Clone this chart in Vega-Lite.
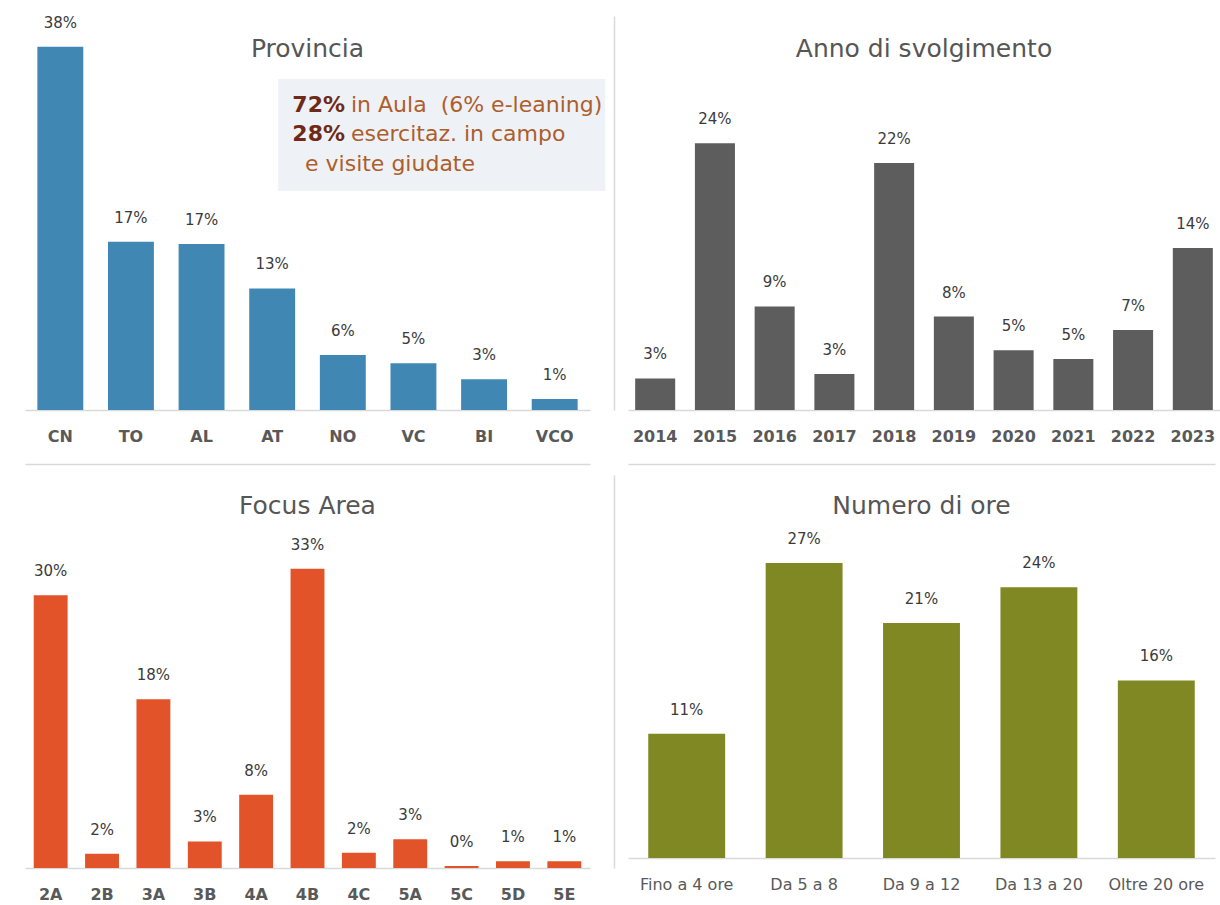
{
  "$schema": "https://vega.github.io/schema/vega-lite/v6.json",
  "background": "white",
  "padding": {"left": 25, "top": 15, "right": 0, "bottom": 0},
  "config": {
    "view": {"stroke": null},
    "font": "DejaVu Sans",
    "title": {"fontSize": 25, "fontWeight": "normal", "color": "#565656", "anchor": "middle", "baseline": "middle", "font": "DejaVu Sans"},
    "axis": {"labelFont": "DejaVu Sans", "labelFontSize": 16, "labelColor": "#595959", "domainColor": "#d9d9d9", "domainWidth": 1.5, "ticks": false, "tickSize": 0, "labelPadding": 18, "grid": false, "labelAngle": 0, "labelOverlap": false}
  },
  "spacing": 20,
  "vconcat": [
    {
      "bounds": "flush",
      "spacing": 38,
      "hconcat": [
        {
          "width": 565,
          "height": 394,
          "title": {"text": "Provincia", "offset": -46},
          "resolve": {"scale": {"x": "independent"}},
          "layer": [
            {
              "data": {"values": [
                {"prov": "CN", "v": 0.3765},
                {"prov": "TO", "v": 0.1744},
                {"prov": "AL", "v": 0.172},
                {"prov": "AT", "v": 0.126},
                {"prov": "NO", "v": 0.057},
                {"prov": "VC", "v": 0.0484},
                {"prov": "BI", "v": 0.0318},
                {"prov": "VCO", "v": 0.0114}
              ]},
              "layer": [
                {
                  "mark": {"type": "bar", "color": "#4087b3"},
                  "encoding": {
                    "x": {"field": "prov", "type": "nominal", "sort": null, "scale": {"paddingInner": 0.35, "paddingOuter": 0.175}, "axis": {"labelFontWeight": "bold", "title": null}},
                    "y": {"field": "v", "type": "quantitative", "scale": {"domain": [0, 0.4083], "nice": false}, "axis": {"orient": "right", "offset": 24, "labels": false, "domain": true, "title": null}}
                  }
                },
                {
                  "mark": {"type": "text", "baseline": "middle", "dy": -24, "fontSize": 15, "color": "#3a3a3a"},
                  "encoding": {
                    "x": {"field": "prov", "type": "nominal", "sort": null},
                    "y": {"field": "v", "type": "quantitative", "axis": {"orient": "right", "offset": 24, "labels": false, "domain": true, "title": null}},
                    "text": {"field": "v", "type": "quantitative", "format": ".0%"}
                  }
                }
              ]
            },
            {
              "data": {"values": [{}]},
              "mark": {"type": "rect", "color": "#eef2f6"},
              "encoding": {
                "x": {"datum": 0.448, "type": "quantitative", "scale": {"domain": [0, 1], "nice": false}, "axis": null},
                "x2": {"datum": 1.027},
                "y": {"datum": 0.343, "type": "quantitative", "axis": {"orient": "right", "offset": 24, "labels": false, "domain": true, "title": null}},
                "y2": {"datum": 0.227}
              }
            },
            {
              "data": {"values": [{}]},
              "mark": {"type": "text", "text": ["72%", "28%"], "align": "right", "baseline": "alphabetic", "lineHeight": 29, "fontSize": 22, "fontWeight": "bold", "color": "#6e2a16"},
              "encoding": {
                "x": {"datum": 0.5664, "type": "quantitative", "scale": {"domain": [0, 1], "nice": false}, "axis": null},
                "y": {"datum": 0.3088, "type": "quantitative", "axis": {"orient": "right", "offset": 24, "labels": false, "domain": true, "title": null}}
              }
            },
            {
              "data": {"values": [{}]},
              "mark": {"type": "text", "text": ["in Aula \u00a0(6% e-leaning)", "esercitaz. in campo"], "align": "left", "baseline": "alphabetic", "lineHeight": 29, "fontSize": 22, "color": "#ad5e2c"},
              "encoding": {
                "x": {"datum": 0.577, "type": "quantitative", "scale": {"domain": [0, 1], "nice": false}, "axis": null},
                "y": {"datum": 0.3088, "type": "quantitative", "axis": {"orient": "right", "offset": 24, "labels": false, "domain": true, "title": null}}
              }
            },
            {
              "data": {"values": [{}]},
              "mark": {"type": "text", "text": "e visite giudate", "align": "left", "baseline": "alphabetic", "fontSize": 22, "color": "#ad5e2c"},
              "encoding": {
                "x": {"datum": 0.4956, "type": "quantitative", "scale": {"domain": [0, 1], "nice": false}, "axis": null},
                "y": {"datum": 0.2477, "type": "quantitative", "axis": {"orient": "right", "offset": 24, "labels": false, "domain": true, "title": null}}
              }
            }
          ]
        },
        {
          "width": 592,
          "height": 394,
          "title": {"text": "Anno di svolgimento", "offset": -46},
          "data": {"values": [
            {"anno": "2014", "v": 0.028},
            {"anno": "2015", "v": 0.237},
            {"anno": "2016", "v": 0.092},
            {"anno": "2017", "v": 0.032},
            {"anno": "2018", "v": 0.2196},
            {"anno": "2019", "v": 0.083},
            {"anno": "2020", "v": 0.053},
            {"anno": "2021", "v": 0.0453},
            {"anno": "2022", "v": 0.071},
            {"anno": "2023", "v": 0.144}
          ]},
          "layer": [
            {
              "mark": {"type": "bar", "color": "#5d5d5d"},
              "encoding": {
                "x": {"field": "anno", "type": "nominal", "sort": null, "scale": {"paddingInner": 0.33, "paddingOuter": 0.12}, "axis": {"labelFontWeight": "bold", "title": null}},
                "y": {"field": "v", "type": "quantitative", "scale": {"domain": [0, 0.3502], "nice": false}, "axis": null}
              }
            },
            {
              "mark": {"type": "text", "baseline": "middle", "dy": -24, "fontSize": 15, "color": "#3a3a3a"},
              "encoding": {
                "x": {"field": "anno", "type": "nominal", "sort": null},
                "y": {"field": "v", "type": "quantitative"},
                "text": {"field": "v", "type": "quantitative", "format": ".0%"}
              }
            }
          ]
        }
      ]
    },
    {
      "bounds": "flush",
      "spacing": 38,
      "hconcat": [
        {
          "width": 565,
          "height": 393,
          "title": {"text": "Focus Area", "offset": -55},
          "data": {"values": [
            {"fa": "2A", "v": 0.298},
            {"fa": "2B", "v": 0.0155},
            {"fa": "3A", "v": 0.1844},
            {"fa": "3B", "v": 0.029},
            {"fa": "4A", "v": 0.08},
            {"fa": "4B", "v": 0.327},
            {"fa": "4C", "v": 0.0167},
            {"fa": "5A", "v": 0.0314},
            {"fa": "5C", "v": 0.0022},
            {"fa": "5D", "v": 0.0073},
            {"fa": "5E", "v": 0.0073}
          ]},
          "resolve": {"axis": {"x": "independent"}},
          "layer": [
            {
              "mark": {"type": "bar", "color": "#e2532a"},
              "encoding": {
                "x": {"field": "fa", "type": "nominal", "sort": null, "scale": {"paddingInner": 0.34, "paddingOuter": 0.17}, "axis": {"labelFontWeight": "bold", "title": null}},
                "y": {"field": "v", "type": "quantitative", "scale": {"domain": [0, 0.4295], "nice": false}, "axis": {"orient": "right", "offset": 24, "labels": false, "domain": true, "title": null}}
              }
            },
            {
              "mark": {"type": "text", "baseline": "middle", "dy": -24, "fontSize": 15, "color": "#3a3a3a"},
              "encoding": {
                "x": {"field": "fa", "type": "nominal", "sort": null, "axis": {"orient": "top", "offset": 11, "labels": false, "title": null}},
                "y": {"field": "v", "type": "quantitative", "axis": {"orient": "right", "offset": 24, "labels": false, "domain": true, "title": null}},
                "text": {"field": "v", "type": "quantitative", "format": ".0%"}
              }
            }
          ]
        },
        {
          "width": 587,
          "height": 383,
          "title": {"text": "Numero di ore", "offset": -55},
          "data": {"values": [
            {"ore": "Fino a 4 ore", "v": 0.112},
            {"ore": "Da 5 a 8", "v": 0.2658},
            {"ore": "Da 9 a 12", "v": 0.2117},
            {"ore": "Da 13 a 20", "v": 0.2439},
            {"ore": "Oltre 20 ore", "v": 0.16}
          ]},
          "resolve": {"axis": {"x": "independent"}},
          "layer": [
            {
              "mark": {"type": "bar", "color": "#7f8822"},
              "encoding": {
                "x": {"field": "ore", "type": "nominal", "sort": null, "scale": {"paddingInner": 0.345, "paddingOuter": 0.1725}, "axis": {"title": null}},
                "y": {"field": "v", "type": "quantitative", "scale": {"domain": [0, 0.345], "nice": false}, "axis": null}
              }
            },
            {
              "mark": {"type": "text", "baseline": "middle", "dy": -24, "fontSize": 15, "color": "#3a3a3a"},
              "encoding": {
                "x": {"field": "ore", "type": "nominal", "sort": null, "axis": {"orient": "top", "offset": 11, "labels": false, "title": null}},
                "y": {"field": "v", "type": "quantitative"},
                "text": {"field": "v", "type": "quantitative", "format": ".0%"}
              }
            }
          ]
        }
      ]
    }
  ]
}
